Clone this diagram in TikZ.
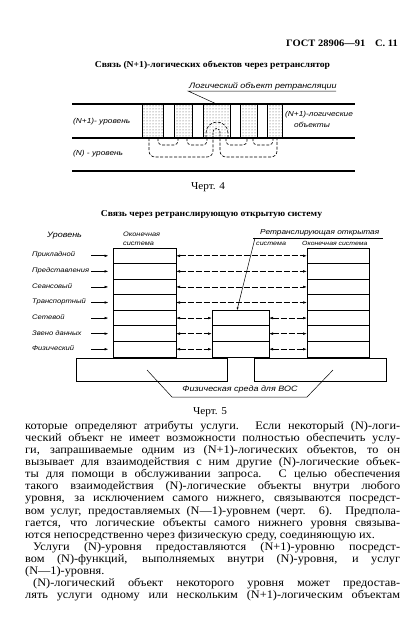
\documentclass[tikz,border=0pt]{standalone}
\usepackage{fontspec}
\setmainfont{Liberation Serif}[FakeStretch=1.07]
\newfontfamily\hand{Liberation Sans}[FakeStretch=1.15]
\usetikzlibrary{patterns,arrows.meta}
\begin{document}
\begin{tikzpicture}[x=1pt,y=-1pt,
  thickline/.style={line width=1.1pt},
  ent/.style={draw, line width=0.8pt, pattern=dots, pattern color=black!70, inner sep=0pt, outer sep=0pt},
  lbl/.style={font=\hand\itshape\fontsize{7.2}{9}\selectfont, inner sep=0pt},
  biglbl/.style={font=\hand\itshape\fontsize{7.8}{9}\selectfont, inner sep=0pt},
  levlbl/.style={font=\hand\itshape\fontsize{6.6}{8}\selectfont, inner sep=0pt},
  dl/.style={line width=0.6pt, dash pattern=on 3pt off 1.6pt, rounded corners=4pt},
  arr/.style={-{Latex[length=4pt,width=2.6pt]}, line width=0.6pt},
  darr/.style={{Latex[length=4pt,width=2.6pt]}-{Latex[length=4pt,width=2.6pt]}, line width=0.6pt, dash pattern=on 6pt off 2pt},
  cell/.style={draw, line width=0.8pt, inner sep=0pt, outer sep=0pt, minimum height=15.57pt},
  media/.style={draw, line width=0.9pt, inner sep=0pt, outer sep=0pt, minimum height=23pt},
  body/.style={font=\fontsize{11.5}{12}\selectfont, inner sep=0pt, anchor=base west},
  ttl/.style={font=\bfseries\fontsize{9}{10}\selectfont, inner sep=0pt},
  captxt/.style={font=\fontsize{10.5}{11}\selectfont, inner sep=0pt}
]
\useasboundingbox (0,0) rectangle (418,625);

% header
\node[font=\bfseries\fontsize{9.8}{11}\selectfont, inner sep=0pt, anchor=east] (hdr) at (398,43) {ГОСТ 28906—91\quad С. 11};
\node[ttl] (t1) at (212.5,65) {Связь (N+1)-логических объектов через ретранслятор};

% ---------- Figure 4 ----------
\coordinate (l1a) at (72,104); \coordinate (l1b) at (355,104);
\coordinate (l2a) at (72,138); \coordinate (l2b) at (355,138);
\coordinate (l3a) at (72,171); \coordinate (l3b) at (355,171);
\draw[thickline] (l1a) -- (l1b);
\draw[thickline] (l2a) -- (l2b);
\draw[thickline] (l3a) -- (l3b);

\node[ent, minimum width=21pt, minimum height=34pt] (e1) at (152.5,121) {};
\node[ent, minimum width=18pt, minimum height=34pt] (e2) at (183,121) {};
\node[ent, minimum width=27pt, minimum height=34pt] (e3) at (216.5,121) {};
\node[ent, minimum width=17pt, minimum height=34pt] (e4) at (248.5,121) {};
\node[ent, minimum width=15pt, minimum height=34pt] (e5) at (274.5,121) {};

% small loops
\draw[dl] (158,138) -- (158,145) -- (178,145) -- (178,138);
\draw[dl] (187,138) -- (187,145) -- (207,145) -- (207,138);
\draw[dl] (226,138) -- (226,145) -- (247,145) -- (247,138);
\draw[dl] (253,138) -- (253,145) -- (273,145) -- (273,138);
% big loops
\draw[dl, rounded corners=6pt] (149,138) -- (149,157) -- (213,157) -- (213,138);
\draw[dl, rounded corners=6pt] (220,138) -- (220,157) -- (277,157) -- (277,138);
% arches inside relay entity
\draw[line width=0.6pt, dash pattern=on 3pt off 1.6pt] (206,138) -- (206,133) arc[start angle=180, end angle=0, radius=11pt] -- (228,138);
\draw[line width=0.6pt, dash pattern=on 2pt off 1.2pt] (213,138) -- (213,132) arc[start angle=180, end angle=0, radius=3.5pt] -- (220,138);

\node[lbl, anchor=west] (n1) at (73,122) {(N+1)- уровень};
\node[lbl, anchor=west] (n0) at (73,154) {(N) - уровень};
\node[lbl, anchor=west] (lo1) at (285,115) {(N+1)-логические};
\node[lbl] (lo2) at (312,124.5) {объекты};
\node[biglbl, anchor=base west] (rl) at (189,88) {Логический объект ретрансляции};
\coordinate (rlu1) at (188,91); \coordinate (rlu2) at (336,91);
\draw[line width=0.5pt] (rlu2) -- (rlu1) -- (e3.north);
\node[captxt] (c4) at (208,187) {Черт. 4};

% ---------- Figure 5 ----------
\node[ttl] (t2) at (211.5,214) {Связь через ретранслирующую открытую систему};

\node[biglbl, anchor=west] (lev) at (47,236) {Уровень};
\node[lbl, anchor=west, align=left, font=\hand\itshape\fontsize{6.4}{9}\selectfont] (es1) at (123,238.5) {Оконечная\\система};
\node[lbl, anchor=base west] (rs1) at (260,234.5) {Ретранслирующая открытая};
\node[lbl, anchor=base west, font=\hand\itshape\fontsize{6.2}{8}\selectfont] (rs2) at (256,245) {система};
\node[lbl, anchor=base west, font=\hand\itshape\fontsize{6}{8}\selectfont] (rs3) at (302,245) {Оконечная система};
\coordinate (rsu1) at (253,238); \coordinate (rsu2) at (383,238);
\draw[line width=0.5pt] (rsu1) -- (rsu2);

% stacks
\foreach \i/\yy in {1/255.79,2/271.36,3/286.93,4/302.5,5/318.07,6/333.64,7/349.21}{
  \node[cell, minimum width=63pt] (L\i) at (144.5,\yy) {};
  \node[cell, minimum width=62pt] (R\i) at (338,\yy) {};
}
\foreach \i/\yy in {5/318.07,6/333.64,7/349.21}{
  \node[cell, minimum width=57pt] (M\i) at (240.5,\yy) {};
}
\draw[line width=0.5pt, -{Latex[length=3pt,width=2pt]}] (255,238) -- (M5.north -| 237,0);

% layer labels and arrows
\foreach \i/\yy/\t in {1/255.79/Прикладной,2/271.36/Представления,3/286.93/Сеансовый,4/302.5/Транспортный,5/318.07/Сетевой,6/333.64/Звено данных,7/349.21/Физический}{
  \node[levlbl, anchor=west] (lab\i) at (32,\yy-1) {\t};
  \coordinate (s\i) at (91,\yy);
  \draw[arr, shorten >=4.5pt] (s\i) -- (L\i.west);
}
\foreach \i in {1,2,3,4}{ \draw[darr] (L\i.east) -- (R\i.west); }
\foreach \i in {5,6,7}{ \draw[darr] (L\i.east) -- (M\i.west); \draw[darr] (M\i.east) -- (R\i.west); }

% physical media
\node[media, minimum width=151pt] (pm1) at (151.5,369.5) {};
\node[media, minimum width=132pt] (pm2) at (320,369.5) {};
\node[biglbl] (pml) at (240,389) {Физическая среда для ВОС};
\coordinate (u1) at (172,397); \coordinate (u2) at (307,397);
\coordinate (p1) at (147,370); \coordinate (p2) at (333,370);
\draw[line width=0.5pt] (p1) -- (u1) -- (u2) -- (p2);
\node[captxt] (c5) at (210,412) {Черт. 5};

% ---------- Body text ----------
\def\lw{375pt}
\node[body] (b1) at (25,429.5) {\makebox[\lw][s]{которые определяют атрибуты услуги. Если некоторый (N)-логи-}};
\node[body] (b2) at (25,441.6) {\makebox[\lw][s]{ческий объект не имеет возможности полностью обеспечить услу-}};
\node[body] (b3) at (25,453.6) {\makebox[\lw][s]{ги, запрашиваемые одним из (N+1)-логических объектов, то он}};
\node[body] (b4) at (25,465.7) {\makebox[\lw][s]{вызывает для взаимодействия с ним другие (N)-логические объек-}};
\node[body] (b5) at (25,477.8) {\makebox[\lw][s]{ты для помощи в обслуживании запроса. С целью обеспечения}};
\node[body] (b6) at (25,489.9) {\makebox[\lw][s]{такого взаимодействия (N)-логические объекты внутри любого}};
\node[body] (b7) at (25,501.9) {\makebox[\lw][s]{уровня, за исключением самого нижнего, связываются посредст-}};
\node[body] (b8) at (25,514.0) {\makebox[\lw][s]{вом услуг, предоставляемых (N—1)-уровнем (черт. 6). Предпола-}};
\node[body] (b9) at (25,526.1) {\makebox[\lw][s]{гается, что логические объекты самого нижнего уровня связыва-}};
\node[body] (b10) at (25,538.1) {ются непосредственно через физическую среду, соединяющую их.};
\node[body] (b11) at (33,550.2) {\makebox[367pt][s]{Услуги (N)-уровня предоставляются (N+1)-уровню посредст-}};
\node[body] (b12) at (25,562.3) {\makebox[\lw][s]{вом (N)-функций, выполняемых внутри (N)-уровня, и услуг}};
\node[body] (b13) at (25,574.4) {(N—1)-уровня.};
\node[body] (b14) at (33,586.4) {\makebox[367pt][s]{(N)-логический объект некоторого уровня может предостав-}};
\node[body] (b15) at (25,598.5) {\makebox[\lw][s]{лять услуги одному или нескольким (N+1)-логическим объектам}};
\end{tikzpicture}
\end{document}
